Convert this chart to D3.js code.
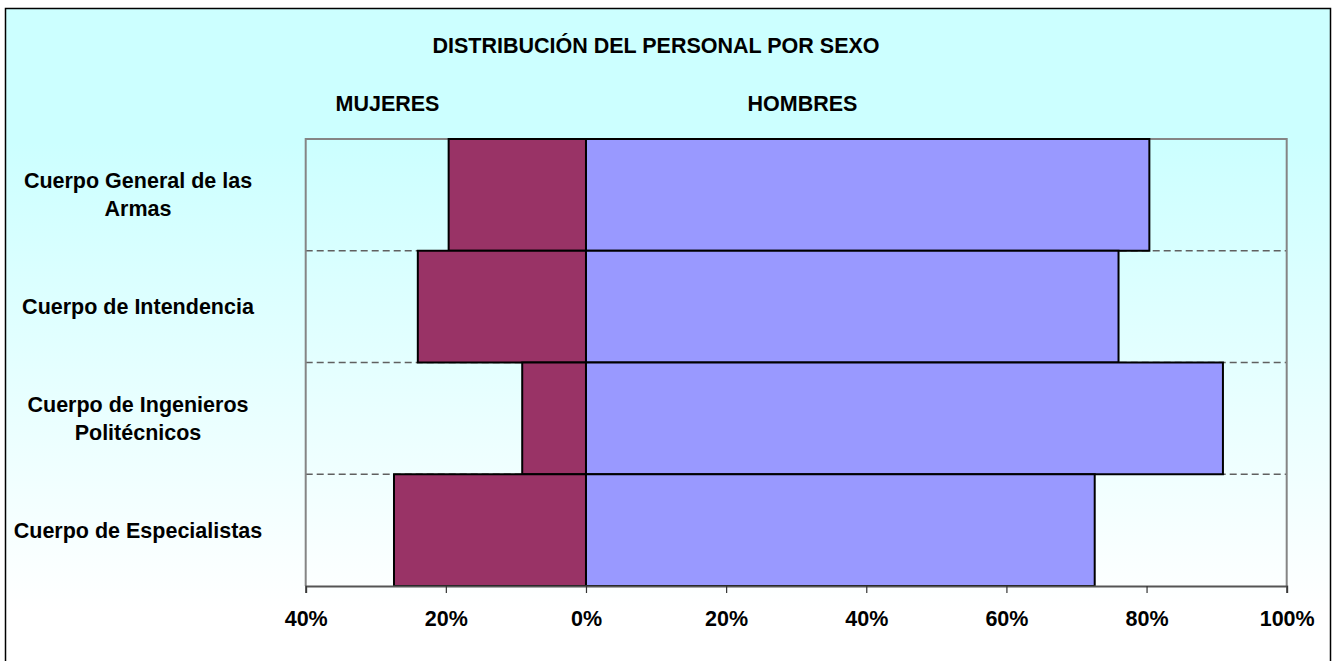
<!DOCTYPE html>
<html>
<head>
<meta charset="utf-8">
<script src="https://cdn.jsdelivr.net/npm/d3@7"></script>
<style>
  html, body { margin: 0; padding: 0; background: #ffffff; }
  svg { display: block; }
  text { font-family: "Liberation Sans", Arial, sans-serif; font-weight: bold; fill: #000; }
</style>
</head>
<body>
<svg id="chart" width="1332" height="661"></svg>
<script>
// ---- Data ----
const categories = [
  "Cuerpo General de las Armas",
  "Cuerpo de Intendencia",
  "Cuerpo de Ingenieros Politécnicos",
  "Cuerpo de Especialistas"
];
const categoryLines = [
  ["Cuerpo General de las", "Armas"],
  ["Cuerpo de Intendencia"],
  ["Cuerpo de Ingenieros", "Politécnicos"],
  ["Cuerpo de Especialistas"]
];
const mujeres = [19.6, 24.0, 9.1, 27.4];
const hombres = [80.4, 76.0, 90.9, 72.6];
const tickValues = [-40, -20, 0, 20, 40, 60, 80, 100];
const tickLabels = ["40%", "20%", "0%", "20%", "40%", "60%", "80%", "100%"];
const titleText = "DISTRIBUCIÓN DEL PERSONAL POR SEXO";
const seriesNames = ["MUJERES", "HOMBRES"];
const colors = { mujeres: "#993366", hombres: "#9999FF" };

// ---- Layout ----
const W = 1332, H = 661;
const plot = { left: 305.7, right: 1286.7, top: 139, bottom: 586 };
const FONT = 21.5;

const svg = d3.select("#chart");

// background gradient
const defs = svg.append("defs");
const grad = defs.append("linearGradient")
  .attr("id", "bg").attr("x1", 0).attr("y1", 0).attr("x2", 0).attr("y2", 1);
grad.append("stop").attr("offset", "0").attr("stop-color", "#ccffff");
grad.append("stop").attr("offset", "0.2").attr("stop-color", "#ccffff");
grad.append("stop").attr("offset", "0.9").attr("stop-color", "#ffffff");
grad.append("stop").attr("offset", "1").attr("stop-color", "#ffffff");

svg.append("rect")
  .attr("x", 5.5).attr("y", 8.5)
  .attr("width", 1325).attr("height", 670)
  .attr("fill", "url(#bg)")
  .attr("stroke", "#000").attr("stroke-width", 1.5);

// ---- Scales ----
const x = d3.scaleLinear().domain([-40, 100]).range([plot.left, plot.right]);
const y = d3.scaleBand().domain(categories).range([plot.top, plot.bottom]).padding(0);

// dashed gridlines at category boundaries
const boundaries = categories.slice(1).map(c => y(c));
svg.append("g").selectAll("line").data(boundaries).join("line")
  .attr("x1", plot.left).attr("x2", plot.right)
  .attr("y1", d => d).attr("y2", d => d)
  .attr("stroke", "#606060").attr("stroke-width", 1.3)
  .attr("stroke-dasharray", "7,4");

// plot border (top, left, right)
svg.append("path")
  .attr("d", `M${plot.left},${plot.bottom} V${plot.top} H${plot.right} V${plot.bottom}`)
  .attr("fill", "none").attr("stroke", "#858585").attr("stroke-width", 2);

// bars
const rows = categories.map((c, i) => ({ c, m: mujeres[i], h: hombres[i] }));
const bars = svg.append("g");
bars.selectAll("rect.m").data(rows).join("rect")
  .attr("class", "m")
  .attr("x", d => x(-d.m)).attr("width", d => x(0) - x(-d.m))
  .attr("y", d => y(d.c)).attr("height", y.bandwidth())
  .attr("fill", colors.mujeres).attr("stroke", "#000").attr("stroke-width", 2);
bars.selectAll("rect.h").data(rows).join("rect")
  .attr("class", "h")
  .attr("x", x(0)).attr("width", d => x(d.h) - x(0))
  .attr("y", d => y(d.c)).attr("height", y.bandwidth())
  .attr("fill", colors.hombres).attr("stroke", "#000").attr("stroke-width", 2);

// x axis
const axis = d3.axisBottom(x)
  .tickValues(tickValues)
  .tickSize(7)
  .tickPadding(18)
  .tickFormat((d, i) => tickLabels[i]);
const gx = svg.append("g").attr("transform", `translate(0,${plot.bottom})`).call(axis);
gx.select(".domain").attr("stroke", "#555").attr("stroke-width", 2);
gx.selectAll(".tick line").attr("stroke", "#333").attr("stroke-width", 1.2);
gx.selectAll(".tick text")
  .attr("font-size", FONT).attr("font-family", "Liberation Sans, Arial, sans-serif")
  .attr("font-weight", "bold").attr("fill", "#000");

// category labels
const lineH = 28;
const labelX = 138;
const lab = svg.append("g");
rows.forEach((d, i) => {
  const lines = categoryLines[i];
  const cy = y(d.c) + y.bandwidth() / 2;
  const firstBase = cy + 7.5 - (lines.length - 1) * lineH / 2;
  const t = lab.append("text")
    .attr("text-anchor", "middle")
    .attr("font-size", FONT);
  lines.forEach((ln, k) => {
    t.append("tspan").attr("x", labelX).attr("y", firstBase + k * lineH).text(ln);
  });
});

// title
svg.append("text")
  .attr("x", 656).attr("y", 53)
  .attr("text-anchor", "middle").attr("font-size", FONT)
  .text(titleText);

// series headers
svg.append("text")
  .attr("x", 387.5).attr("y", 111)
  .attr("text-anchor", "middle").attr("font-size", FONT)
  .text(seriesNames[0]);
svg.append("text")
  .attr("x", 802.5).attr("y", 111)
  .attr("text-anchor", "middle").attr("font-size", FONT)
  .text(seriesNames[1]);
</script>
</body>
</html>
